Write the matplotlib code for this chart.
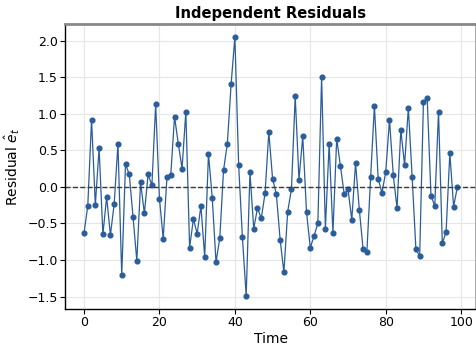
import matplotlib
matplotlib.use("Agg")
import matplotlib.pyplot as plt
import numpy as np

# residual values, time steps 0..99
residuals = [
    -0.63, -0.26, 0.92, -0.25, 0.53, -0.65, -0.14, -0.66, -0.23, 0.59,
    -1.21, 0.31, 0.17, -0.41, -1.01, 0.06, -0.36, 0.17, 0.02, 1.13,
    -0.16, -0.71, 0.14, 0.16, 0.96, 0.59, 0.25, 1.03, -0.83, -0.44,
    -0.64, -0.26, -0.96, 0.45, -0.15, -1.03, -0.70, 0.23, 0.59, 1.40,
    2.05, 0.30, -0.69, -1.49, 0.20, -0.57, -0.29, -0.43, -0.09, 0.75,
    0.11, -0.10, -0.72, -1.17, -0.34, -0.03, 1.24, 0.10, 0.69, -0.35,
    -0.83, -0.67, -0.50, 1.50, -0.57, 0.59, -0.63, 0.66, 0.28, -0.10,
    -0.03, -0.45, 0.32, -0.31, -0.85, -0.89, 0.13, 1.11, 0.11, -0.08,
    0.20, 0.92, 0.16, -0.29, 0.78, 0.30, 1.08, 0.14, -0.85, -0.95,
    1.16, 1.21, -0.12, -0.26, 1.03, -0.77, -0.62, 0.46, -0.27, 0.00,
]
time = np.arange(len(residuals))

line_color = "#2a5d9c"

fig = plt.figure(figsize=(4.77, 3.47), dpi=100)
ax = fig.add_axes([0.137, 0.110, 0.861, 0.821])

ax.plot(time, residuals, color=line_color, lw=0.9, marker="o", markersize=3.4)
ax.axhline(0, color="#3a3a3a", ls="--", lw=1.0)

ax.set_title("Independent Residuals", fontsize=10.6, fontweight="bold", pad=4)
ax.set_xlabel("Time", fontsize=10, labelpad=2)
ax.set_ylabel(r"Residual $\hat{e}_t$", fontsize=10, labelpad=4)

ax.set_xticks([0, 20, 40, 60, 80, 100])
ax.set_yticks([-1.5, -1.0, -0.5, 0.0, 0.5, 1.0, 1.5, 2.0])
ax.tick_params(labelsize=9, length=3.5, width=0.8, direction="out", pad=2)
ax.grid(True, color="#e6e6e6", lw=0.8)
ax.set_axisbelow(True)

for side in ["left", "bottom"]:
    ax.spines[side].set_color("black")
    ax.spines[side].set_linewidth(1.0)
ax.spines["top"].set_color("#888888")
ax.spines["top"].set_linewidth(2.0)
ax.spines["right"].set_color("#999999")
ax.spines["right"].set_linewidth(1.2)

fig.savefig("out.png", dpi=100)
